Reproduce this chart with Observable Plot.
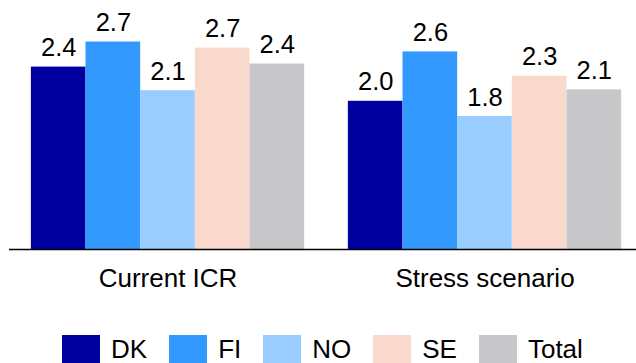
<!DOCTYPE html>
<html>
<head>
<meta charset="utf-8">
<script src="https://cdn.jsdelivr.net/npm/d3@7"></script>
<script src="https://cdn.jsdelivr.net/npm/@observablehq/plot@0.6"></script>
<style>
  html, body { margin: 0; padding: 0; background: #fff; }
  body { width: 636px; height: 363px; overflow: hidden; font-family: "Liberation Sans", Arial, sans-serif; }
  #legend { display: flex; align-items: center; padding-left: 62px; margin-top: 10px; height: 28px; }
  .item { display: flex; align-items: center; margin-right: 22px; }
  .sw { width: 38px; height: 28px; margin-right: 11px; }
  .lab { font-size: 26px; color: #000; line-height: 28px; }
</style>
</head>
<body>
<div id="chart"></div>
<div id="legend"></div>
<script>
const groups = ["Current ICR", "Stress scenario"];
const series = ["DK", "FI", "NO", "SE", "Total"];
const currentValues = [2.40, 2.73, 2.09, 2.65, 2.44];
const stressValues = [1.95, 2.60, 1.75, 2.28, 2.10];
const currentLabels = ["2.4", "2.7", "2.1", "2.7", "2.4"];
const stressLabels = ["2.0", "2.6", "1.8", "2.3", "2.1"];
const colors = ["#0000a0", "#3399ff", "#99ccff", "#f9d9cb", "#c8c7c9"];

const valuesByGroup = [currentValues, stressValues];
const labelsByGroup = [currentLabels, stressLabels];
const data = [];
groups.forEach((g, gi) => {
  series.forEach((s, si) => {
    data.push({group: g, series: s, value: valuesByGroup[gi][si], label: labelsByGroup[gi][si]});
  });
});

const plot = Plot.plot({
  width: 636,
  height: 325,
  marginLeft: 9,
  marginRight: -7,
  marginTop: 21,
  marginBottom: 76,
  style: {fontFamily: "'Liberation Sans', Arial, sans-serif", fontSize: "26px", color: "#000", background: "#fff"},
  fx: {domain: groups, padding: 0, round: false, axis: "bottom", tickSize: 0, tickPadding: 19, label: null},
  x: {domain: series, paddingInner: 0, paddingOuter: 0.4, round: false, axis: null},
  y: {domain: [0, 3.0], axis: null},
  color: {domain: series, range: colors},
  marks: [
    Plot.barY(data, {fx: "group", x: "series", y: "value", fill: "series", inset: 0}),
    Plot.text(data, {fx: "group", x: "series", y: "value", text: "label", dy: -11, lineAnchor: "bottom", fontSize: 25.5, fill: "#000"}),
    Plot.ruleY([0], {stroke: "#000", strokeWidth: 1.3})
  ]
});
document.getElementById("chart").appendChild(plot);

const legend = document.getElementById("legend");
series.forEach((s, i) => {
  const item = document.createElement("div");
  item.className = "item";
  const sw = document.createElement("div");
  sw.className = "sw";
  sw.style.background = colors[i];
  const lab = document.createElement("span");
  lab.className = "lab";
  lab.textContent = s;
  item.appendChild(sw);
  item.appendChild(lab);
  legend.appendChild(item);
});
</script>
</body>
</html>
